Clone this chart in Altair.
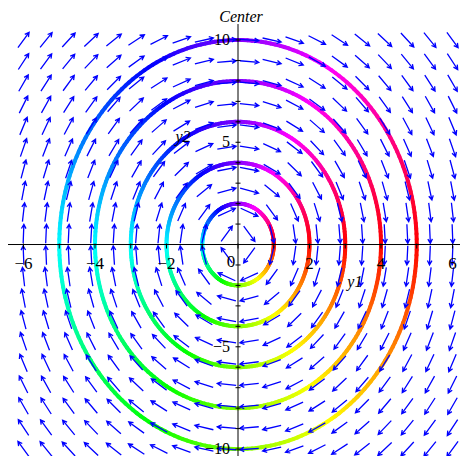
import colorsys
import numpy as np
import pandas as pd
import altair as alt

# ---------------- data ----------------
title_text = "Center"
x_axis_name = "y1"
y_axis_name = "y2"
radii = [1, 2, 3, 4, 5]            # semi-axis along y1 (semi-axis along y2 is 2*r)
grid_y1 = np.linspace(-6, 6, 20)   # direction-field grid
grid_y2 = np.linspace(-10, 10, 20)
x_tick_vals = list(range(-6, 7))
y_tick_vals = list(range(-10, 11))
x_label_vals = [-6, -4, -2, 2, 4, 6]
y_label_vals = [-10, -5, 5, 10]
x_name_pos = (3.27, -1.83)
y_name_pos = (-1.54, 5.26)

# system: y1' = y2, y2' = -4 y1
def field(a, b):
    return b, -4.0 * a

# ---------------- geometry ----------------
W, H = 452, 448
X_DOM = [-6.434, 6.21]
Y_DOM = [-10.34, 11.565]
ppx = W / (X_DOM[1] - X_DOM[0])
ppy = H / (Y_DOM[1] - Y_DOM[0])

xs = alt.Scale(domain=X_DOM, nice=False, zero=False)
ys = alt.Scale(domain=Y_DOM, nice=False, zero=False)

def X(f, **k):
    return alt.X(f, type="quantitative", scale=xs, axis=None, **k)

def Y(f, **k):
    return alt.Y(f, type="quantitative", scale=ys, axis=None, **k)

# solution curves (hue follows position along the orbit)
N = 240
rows = []
for r in radii:
    for i in range(N):
        s0, s1 = i / N, (i + 1) / N
        sm = (s0 + s1) / 2
        h = (0.75 + sm) % 1.0
        rgb = colorsys.hsv_to_rgb(h, 1.0, 1.0)
        col = "#%02x%02x%02x" % tuple(int(round(c * 255)) for c in rgb)
        rows.append(dict(
            x=r * np.sin(2 * np.pi * s0), y=2 * r * np.cos(2 * np.pi * s0),
            x2=r * np.sin(2 * np.pi * s1), y2=2 * r * np.cos(2 * np.pi * s1),
            c=col))
curves = pd.DataFrame(rows)

# direction field arrows
arows = []
for a in grid_y1:
    for b in grid_y2:
        u, v = field(a, b)
        ang = np.degrees(np.arctan2(-v * ppy, u * ppx)) % 360
        arows.append(dict(x=a, y=b, ang=ang))
arrows = pd.DataFrame(arows)

curve_layer = alt.Chart(curves).mark_rule(strokeWidth=4, strokeCap="round").encode(
    x=X("x"), y=Y("y"), x2="x2", y2="y2", color=alt.Color("c:N", scale=None))

arrow_path = "M-1,0L1,0M0.55,-0.24L1,0L0.55,0.24"
arrow_layer = alt.Chart(arrows).mark_point(
    shape=arrow_path, filled=False, color="#0000ff", strokeWidth=1.3, size=19 * 19, opacity=1
).encode(x=X("x"), y=Y("y"), angle=alt.Angle("ang:Q", scale=None))

# axes
axes_df = pd.DataFrame([
    dict(x=X_DOM[0], y=0, x2=X_DOM[1], y2=0),
    dict(x=0, y=Y_DOM[0], x2=0, y2=10.78),
])
axes_layer = alt.Chart(axes_df).mark_rule(color="black", strokeWidth=1).encode(
    x=X("x"), y=Y("y"), x2="x2", y2="y2")

xt = pd.DataFrame(dict(x=x_tick_vals, y=[1 / ppy] * len(x_tick_vals),
                       y2=[-4 / ppy] * len(x_tick_vals)))
xt_layer = alt.Chart(xt).mark_rule(color="black", strokeWidth=1).encode(
    x=X("x"), y=Y("y"), y2="y2")
yt = pd.DataFrame(dict(y=y_tick_vals, x=[-2.5 / ppx] * len(y_tick_vals),
                       x2=[2.5 / ppx] * len(y_tick_vals)))
yt_layer = alt.Chart(yt).mark_rule(color="black", strokeWidth=1).encode(
    x=X("x"), x2="x2", y=Y("y"))

def lab(v):
    return ("\u2212" + str(-v)) if v < 0 else str(v)

FONT = "Liberation Serif"
xl = pd.DataFrame(dict(x=x_label_vals, y=[0] * len(x_label_vals),
                       t=[lab(v) for v in x_label_vals]))
xl_layer = alt.Chart(xl).mark_text(font=FONT, fontSize=17, dy=19, baseline="middle",
                                   align="center", color="black").encode(
    x=X("x"), y=Y("y"), text="t:N")
zero_layer = alt.Chart(pd.DataFrame(dict(x=[0], y=[0], t=["0"]))).mark_text(
    font=FONT, fontSize=17, dx=-7, dy=17, baseline="middle", align="center", color="black"
).encode(x=X("x"), y=Y("y"), text="t:N")
yl = pd.DataFrame(dict(x=[0] * len(y_label_vals), y=y_label_vals,
                       t=[lab(v) for v in y_label_vals]))
yl_layer = alt.Chart(yl).mark_text(font=FONT, fontSize=16, dx=-8, dy=5, baseline="alphabetic",
                                   align="right", color="black").encode(
    x=X("x"), y=Y("y"), text="t:N")

names = pd.DataFrame(dict(x=[x_name_pos[0], y_name_pos[0]], y=[x_name_pos[1], y_name_pos[1]],
                          t=[x_axis_name, y_axis_name]))
names_layer = alt.Chart(names).mark_text(font=FONT, fontSize=16, fontStyle="italic",
                                         baseline="middle", align="center", color="black").encode(
    x=X("x"), y=Y("y"), text="t:N")

title_layer = alt.Chart(pd.DataFrame(dict(t=[title_text]))).mark_text(
    font=FONT, fontSize=16, fontStyle="italic", baseline="top", align="center", color="black"
).encode(x=alt.value(233), y=alt.value(1), text="t:N")

chart = alt.layer(curve_layer, arrow_layer, axes_layer, xt_layer, yt_layer,
                  xl_layer, zero_layer, yl_layer, names_layer, title_layer).properties(
    width=W, height=H, padding=0, autosize=alt.AutoSizeParams(type="none"),
    background="white"
).configure_view(stroke=None)

chart.save("out.html", embed_options={"renderer": "svg", "actions": False})
